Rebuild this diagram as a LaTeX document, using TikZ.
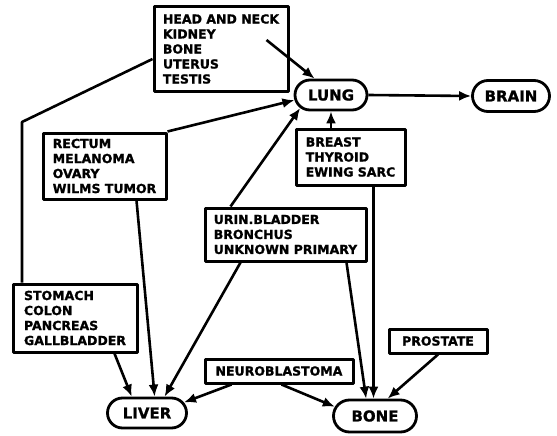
\documentclass[tikz,border=0pt]{standalone}
\usepackage{fontspec}
\setmainfont{DejaVu Sans}
\newfontfamily\heavyfont[FakeBold=1.2]{DejaVu Sans Bold}
\usetikzlibrary{arrows.meta,shapes.misc,calc}

\begin{document}
\begin{tikzpicture}[x=1pt,y=-1pt,>={Latex[length=12pt,width=10pt]},line join=round,
	site/.style={draw,line width=3pt,align=left,inner sep=0pt,font=\heavyfont\fontsize{12.5}{15}\selectfont},
	organ/.style={draw,rounded rectangle,line width=2.8pt,inner sep=0pt,font=\heavyfont\fontsize{15}{16}\selectfont},
	link/.style={line width=2.6pt}]
	\useasboundingbox (0,0) rectangle (557,436);
	% organs
	\node[organ,minimum width=72pt,minimum height=30pt] (lung) at (331,95) {LUNG};
	\node[organ,minimum width=77pt,minimum height=31pt] (brain) at (511,96) {BRAIN};
	\node[organ,minimum width=79pt,minimum height=30pt] (liver) at (147,413) {LIVER};
	\node[organ,minimum width=83pt,minimum height=32pt] (bone) at (375,416) {BONE};
	% primary sites
	\node[site,minimum width=134pt,minimum height=84pt] (head) at (221,49) {HEAD AND NECK\\KIDNEY\\BONE\\UTERUS\\TESTIS};
	\node[site,minimum width=123pt,minimum height=66pt] (rectum) at (104.5,166) {RECTUM\\MELANOMA\\OVARY\\WILMS TUMOR};
	\node[site,minimum width=109pt,minimum height=56pt] (breast) at (350.5,157) {BREAST\\THYROID\\EWING SARC};
	\node[site,minimum width=161pt,minimum height=53pt] (urin) at (285.5,234.5) {URIN.BLADDER\\BRONCHUS\\UNKNOWN PRIMARY};
	\node[site,minimum width=124pt,minimum height=68pt] (stomach) at (75,318) {STOMACH\\COLON\\PANCREAS\\GALLBLADDER};
	\node[site,minimum width=148pt,minimum height=24pt] (neuro) at (279,371) {NEUROBLASTOMA};
	\node[site,minimum width=98pt,minimum height=24pt] (prostate) at (438,341) {PROSTATE};
	% connector ends
	\coordinate (head-in) at ($(head.east)+(-23,-9)$);
	\coordinate (head-off) at ($(head.west)+(0,10)$);
	\coordinate (bend) at (22,122);
	\coordinate (rectum-out) at ($(rectum.south east)+(-31,0)$);
	\coordinate (breast-out) at ($(breast.south east)+(-33,0)$);
	\coordinate (urin-up) at ($(urin.north west)+(27,0)$);
	\coordinate (urin-left) at ($(urin.south west)+(37,0)$);
	\coordinate (urin-right) at ($(urin.south east)+(-21,0)$);
	\coordinate (stomach-out) at ($(stomach.south east)+(-24,0)$);
	\coordinate (neuro-left) at ($(neuro.south west)+(28,0)$);
	\coordinate (neuro-right) at ($(neuro.south west)+(78,0)$);
	\draw[link] (head-off) -- (bend) -- (bend |- stomach.north);
	\foreach \s/\t in {head-in/lung.135,rectum.north east/lung.188,urin-up/lung.203,lung.east/brain.west,
		rectum-out/liver.65,stomach-out/liver.133,urin-left/liver.43,neuro-left/liver.16,
		urin-right/bone.117,neuro-right/bone.167,prostate.south/bone.54}
		\draw[link,->] (\s) -- (\t);
	\draw[link,->] (lung.south |- breast.north) -- (lung.south);
	\draw[link,->] (breast-out) -- (breast-out |- bone.north);
\end{tikzpicture}
\end{document}
